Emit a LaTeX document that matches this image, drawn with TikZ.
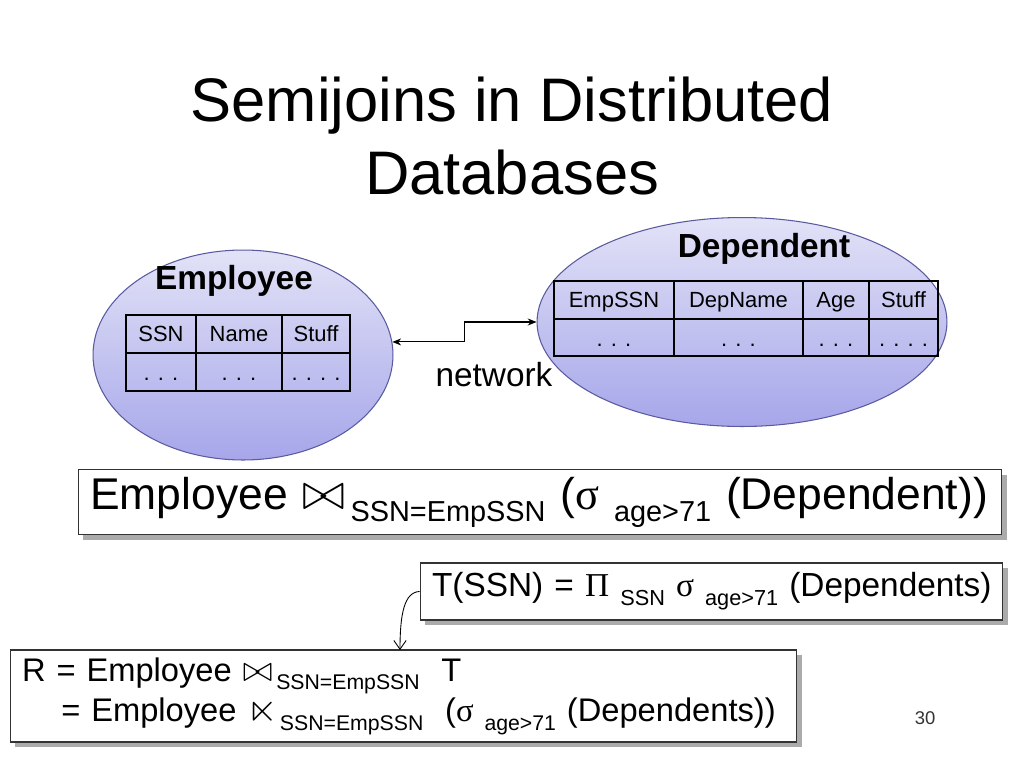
\documentclass[tikz,border=0pt]{standalone}
\usepackage{amssymb}
\usepackage{fontspec}
\setmainfont{Liberation Sans}
\newfontfamily\grk{Liberation Serif}
\usetikzlibrary{shapes.geometric,shadows,arrows.meta}
\newcommand\lsub[1]{\raisebox{-0.27em}{\scalebox{0.65}{#1}}}
\newcommand\jn{\scalebox{1.2}{$\bowtie$}\kern0.12em}
\newcommand\sjn{\scalebox{1.2}{$\ltimes$}\kern0.06em}
\newcommand\fs[1]{\fontsize{#1pt}{1.2\dimexpr#1pt\relax}\selectfont}
\definecolor{ellborder}{HTML}{5A5AA0}
\definecolor{elltop}{HTML}{E2E2F7}
\definecolor{ellbot}{HTML}{A6A6EA}
\tikzset{
  dbell/.style={ellipse, draw=ellborder, line width=0.6pt, top color=elltop, bottom color=ellbot, inner sep=0pt},
  dblabel/.style={font=\fs{19}\bfseries, inner sep=0pt},
  cell/.style={font=\fs{12.5}, inner sep=0pt, text height=1.6ex, text depth=0.3ex},
  tblouter/.style={line width=1.5pt, line cap=rect},
  tblinner/.style={line width=0.8pt},
  exprbox/.style={draw=black!80, line width=0.6pt, fill=white, inner ysep=0pt, inner xsep=0.24cm, align=left,
    drop shadow={shadow xshift=0.1cm, shadow yshift=-0.1cm, fill=black!55, opacity=0.6}},
  netarrow/.style={line width=0.6pt, {Stealth[length=5pt,width=4pt]}-{Stealth[length=5pt,width=4pt]}},
  curvearrow/.style={line width=0.5pt, -{Straight Barb[length=5pt,width=7pt]}}
}
\begin{document}
\begin{tikzpicture}[x=0.02cm, y=-0.02cm]
\useasboundingbox[fill=white] (0,0) rectangle (1024,768);

% title
\node[align=center, font=\fontsize{35pt}{41pt}\selectfont, inner sep=0pt] (title) at (512,136)
  {Semijoins in Distributed\\Databases};

% Employee database
\node[dbell, minimum width=6cm, minimum height=4.2cm] (emp) at (243,355) {};
\node[dblabel] (emplbl) at (234,281) {Employee};
\draw[tblinner] (196,315) -- (196,391) (282,315) -- (282,391) (126,353) -- (350,353);
\draw[tblouter] (126,315) rectangle (350,391);
\node[cell] (e11) at (161,335) {SSN};
\node[cell] (e12) at (239,335) {Name};
\node[cell] (e13) at (316,335) {Stuff};
\node[cell] (e21) at (161,374) {. . .};
\node[cell] (e22) at (239,374) {. . .};
\node[cell] (e23) at (316,374) {. . . .};

% Dependent database
\node[dbell, minimum width=8.2cm, minimum height=4.18cm] (dep) at (742,322) {};
\node[dblabel] (deplbl) at (764,249) {Dependent};
\draw[tblinner] (674,281) -- (674,356) (803,281) -- (803,356) (869,281) -- (869,356) (554,319) -- (938,319);
\draw[tblouter] (554,281) rectangle (938,356);
\node[cell] (d11) at (614,301) {EmpSSN};
\node[cell] (d12) at (738.5,301) {DepName};
\node[cell] (d13) at (836,301) {Age};
\node[cell] (d14) at (903.5,301) {Stuff};
\node[cell] (d21) at (614,340) {. . .};
\node[cell] (d22) at (738.5,340) {. . .};
\node[cell] (d23) at (836,340) {. . .};
\node[cell] (d24) at (903.5,340) {. . . .};

% network
\draw[netarrow] (dep.west) -- ++(-72,0) |- (emp.5);
\node[font=\fs{19}, inner sep=0pt] (net) at (494,375) {network};

% expression boxes
\node[exprbox, minimum width=18.48cm, minimum height=1.3cm, text width=18cm, font=\fs{25.3}] (join) at (540,502)
  {\mbox{Employee \jn\lsub{SSN=EmpSSN} ({\grk σ} \lsub{age>71} (Dependent))}};

\node[exprbox, minimum width=11.66cm, minimum height=1.14cm, text width=11.18cm, font=\fs{19}] (tssn) at (711.5,591.5)
  {\mbox{T(SSN) = {\grk Π} \lsub{SSN} {\grk σ} \lsub{age>71} (Dependents)}};

\node[exprbox, minimum width=15.74cm, minimum height=1.84cm, text width=15.26cm,
      font=\fontsize{18.6pt}{23pt}\selectfont] (res) at (403.5,696)
  {\mbox{R = Employee \jn\lsub{SSN=EmpSSN}\ \ T}\\
   \mbox{\hspace*{1.2em}= Employee \sjn\lsub{SSN=EmpSSN}\ \ ({\grk σ} \lsub{age>71} (Dependents))}};

\coordinate (resin) at (400,650);
\draw[curvearrow] (tssn.west) .. controls (404,592) and (400,615) .. (resin);

% page number
\node[font=\fs{10.5}, text=black!80, inner sep=0pt] (pg) at (925,718) {30};
\end{tikzpicture}
\end{document}
